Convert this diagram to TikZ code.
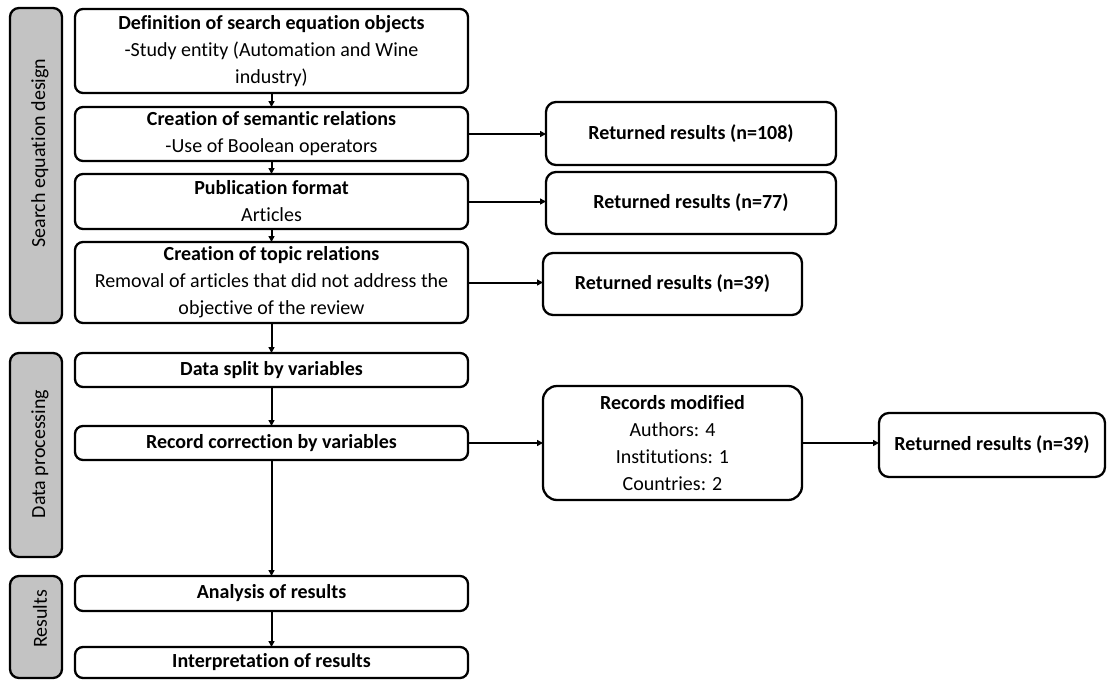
\documentclass[tikz,border=0pt]{standalone}
\usepackage{fontspec}
\setmainfont{Carlito}[Ligatures=NoCommon]
\usetikzlibrary{arrows.meta}
\definecolor{sidegray}{RGB}{195,195,195}
\begin{document}
\begin{tikzpicture}[x=1pt,y=-1pt,
  box/.style={draw, line width=2.3pt, rounded corners=8pt, fill=white, inner sep=0pt, outer sep=0pt, align=center, font=\fontsize{20}{27}\selectfont},
  side/.style={draw, line width=2.3pt, rounded corners=9pt, fill=sidegray, inner sep=0pt, outer sep=0pt, rotate=90, minimum height=52pt},
  sidetext/.style={rotate=90, inner sep=0pt, font=\fontsize{20}{24}\selectfont},
  arr/.style={line width=2pt, -{Triangle[length=6pt,width=6pt]}}]
\useasboundingbox (0,0) rectangle (1108,680);
% side bars
\node[side, minimum width=315pt] (s1) at (36,165.5) {};
\node[side, minimum width=204pt] (s2) at (36,455) {};
\node[side, minimum width=102pt] (s3) at (36,627) {};
\node[sidetext] (t1) at (40,153) {Search equation design};
\node[sidetext] (t2) at (40,454) {Data processing};
\node[sidetext] (t3) at (40,619) {Results};
% main column
\node[box, minimum width=393pt, minimum height=84pt] (b1) at (271.5,51) {\textbf{Definition of search equation objects}\\-Study entity (Automation and Wine\\industry)};
\node[box, minimum width=393pt, minimum height=54pt] (b2) at (271.5,134) {\textbf{Creation of semantic relations}\\-Use of Boolean operators};
\node[box, minimum width=393pt, minimum height=55pt] (b3) at (271.5,201.5) {\textbf{Publication format}\\Articles};
\node[box, minimum width=393pt, minimum height=81pt] (b4) at (271.5,282.5) {\textbf{Creation of topic relations}\\Removal of articles that did not address the\\objective of the review};
\node[box, minimum width=393pt, minimum height=34pt] (b5) at (271.5,370) {\textbf{Data split by variables}};
\node[box, minimum width=393pt, minimum height=34pt] (b6) at (271.5,443) {\textbf{Record correction by variables}};
\node[box, minimum width=393pt, minimum height=35pt] (b7) at (271.5,593.5) {\textbf{Analysis of results}};
\node[box, minimum width=393pt, minimum height=31pt] (b8) at (271.5,662.5) {\textbf{Interpretation of results}};
% right column
\node[box, rounded corners=10pt, minimum width=290pt, minimum height=63pt] (r1) at (691,133.5) {\textbf{Returned results (n=108)}};
\node[box, rounded corners=10pt, minimum width=290pt, minimum height=62pt] (r2) at (691,203) {\textbf{Returned results (n=77)}};
\node[box, rounded corners=10pt, minimum width=259pt, minimum height=62pt] (r3) at (672.5,284) {\textbf{Returned results (n=39)}};
\node[box, rounded corners=14pt, minimum width=259pt, minimum height=114pt] (rm) at (672.5,443) {\textbf{Records modified}\\Authors: 4\\Institutions: 1\\Countries: 2};
\node[box, rounded corners=10pt, minimum width=226pt, minimum height=64pt] (rf) at (992,445) {\textbf{Returned results (n=39)}};
% vertical arrows
\draw[arr] (b1) -- (b2);
\draw[arr] (b2) -- (b3);
\draw[arr] (b3) -- (b4);
\draw[arr] (b4) -- (b5);
\draw[arr] (b5) -- (b6);
\draw[arr] (b6) -- (b7);
\draw[arr] (b7) -- (b8);
% horizontal arrows
\draw[arr] (b2.east) -- (b2.east -| r1.west);
\draw[arr] (b3.east) -- (b3.east -| r2.west);
\draw[arr] (b4.east) -- (b4.east -| r3.west);
\draw[arr] (b6.east) -- (b6.east -| rm.west);
\draw[arr] (rm.east) -- (rm.east -| rf.west);
\end{tikzpicture}
\end{document}
